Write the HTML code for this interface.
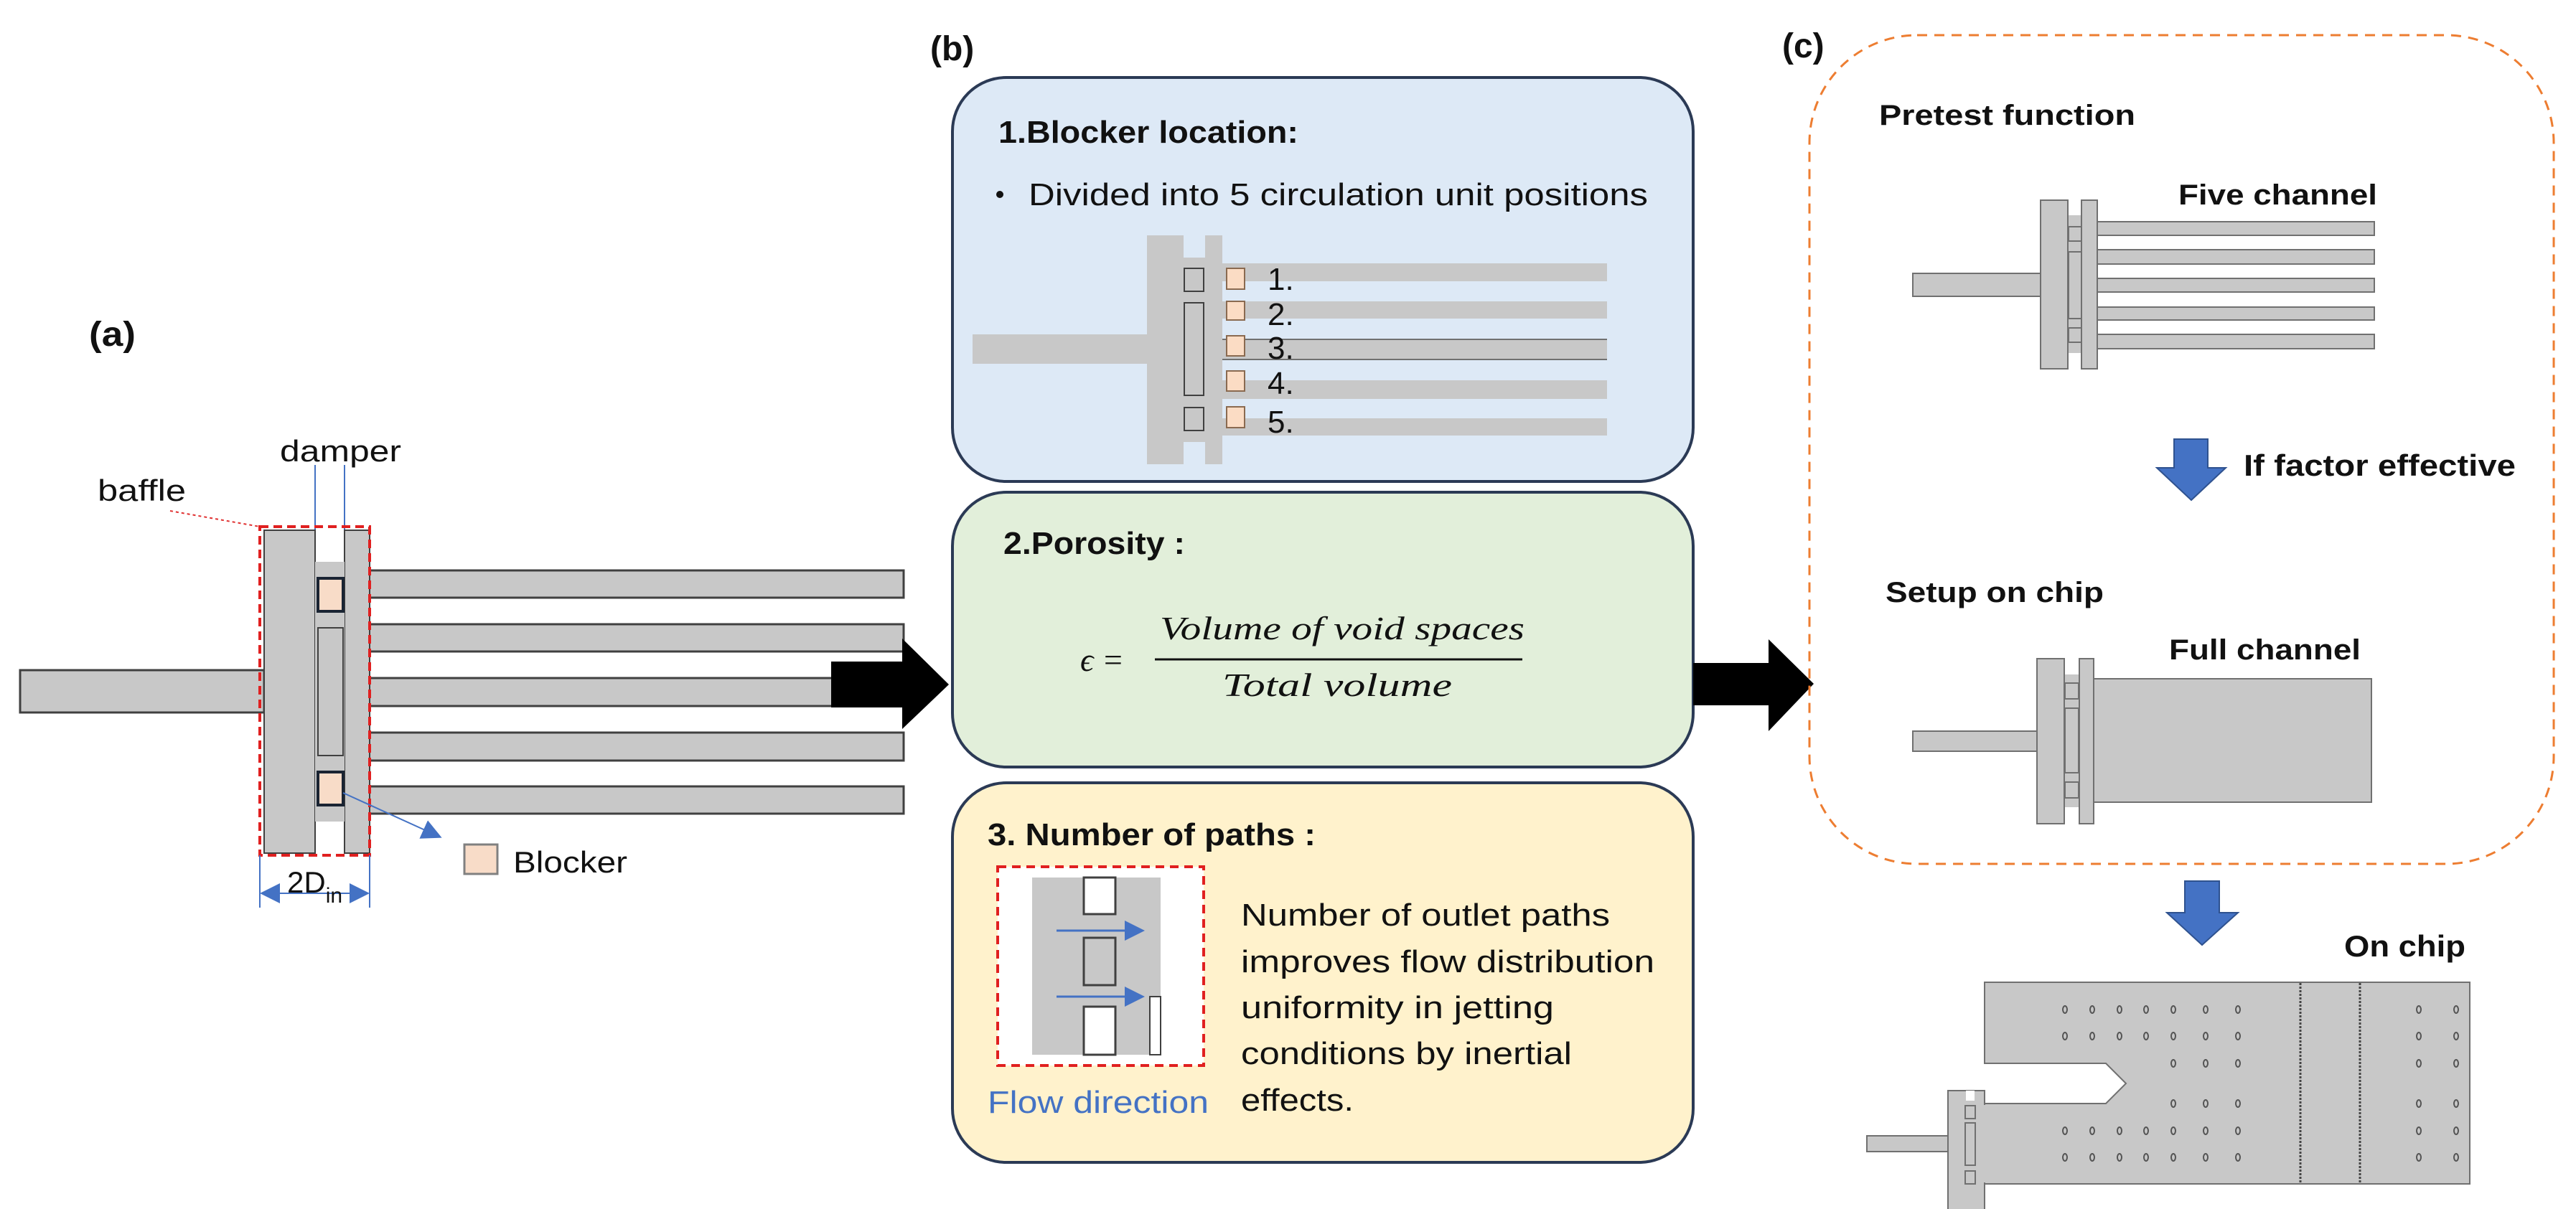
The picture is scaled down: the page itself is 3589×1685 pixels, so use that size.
<!DOCTYPE html>
<html><head><meta charset="utf-8"><style>
html,body{margin:0;padding:0;background:#fff;}
svg{display:block;}
text{font-family:"Liberation Sans",sans-serif;fill:#111;}
.b{font-weight:bold;}
</style></head><body>
<svg width="3589" height="1685" viewBox="0 0 3589 1685" xmlns="http://www.w3.org/2000/svg">
<defs>
<marker id="bl" markerWidth="28" markerHeight="28" refX="24" refY="14" orient="auto" markerUnits="userSpaceOnUse"><path d="M0,0 L28,14 L0,28z" fill="#4472c4"/></marker>
<marker id="bl2" markerWidth="28" markerHeight="28" refX="4" refY="14" orient="auto" markerUnits="userSpaceOnUse"><path d="M28,0 L0,14 L28,28z" fill="#4472c4"/></marker>
</defs>

<!-- (a) -->
<text x="124" y="482" class="b" font-size="48" textLength="65" lengthAdjust="spacingAndGlyphs">(a)</text>
<text x="390" y="643" font-size="42" textLength="169" lengthAdjust="spacingAndGlyphs">damper</text>
<text x="136" y="698" font-size="42" textLength="123" lengthAdjust="spacingAndGlyphs">baffle</text>
<line x1="237" y1="712" x2="362" y2="734" stroke="#e03030" stroke-width="2" stroke-dasharray="4,4"/>
<line x1="439" y1="648" x2="439" y2="790" stroke="#4472c4" stroke-width="2"/>
<line x1="480" y1="648" x2="480" y2="790" stroke="#4472c4" stroke-width="2"/>
<rect x="28" y="934" width="340" height="59" fill="#c8c8c8" stroke="#404040" stroke-width="3"/>
<g fill="#c8c8c8" stroke="#404040" stroke-width="3">
<rect x="512" y="795" width="747" height="38"/>
<rect x="512" y="870" width="747" height="38"/>
<rect x="512" y="945" width="747" height="39"/>
<rect x="512" y="1021" width="747" height="39"/>
<rect x="512" y="1096" width="747" height="38"/>
</g>
<rect x="368" y="739" width="71" height="450" fill="#c8c8c8" stroke="#404040" stroke-width="2"/>
<rect x="480" y="739" width="35" height="450" fill="#c8c8c8" stroke="#404040" stroke-width="2"/>
<rect x="439" y="783" width="41" height="362" fill="#c8c8c8"/>
<rect x="443" y="806" width="35" height="46" fill="#f8dcc8" stroke="#1a2433" stroke-width="4"/>
<rect x="443" y="875" width="35" height="178" fill="#c8c8c8" stroke="#404040" stroke-width="2"/>
<rect x="443" y="1076" width="35" height="46" fill="#f8dcc8" stroke="#1a2433" stroke-width="4"/>
<rect x="362" y="734" width="153" height="458" fill="none" stroke="#e02020" stroke-width="4" stroke-dasharray="12,7"/>
<line x1="478" y1="1105" x2="612" y2="1166" stroke="#4472c4" stroke-width="2" marker-end="url(#bl)"/>
<rect x="647" y="1177" width="46" height="41" fill="#f8dcc8" stroke="#808080" stroke-width="3"/>
<text x="715" y="1216" font-size="42" textLength="159" lengthAdjust="spacingAndGlyphs">Blocker</text>
<line x1="362" y1="1192" x2="362" y2="1265" stroke="#4472c4" stroke-width="2"/>
<line x1="515" y1="1192" x2="515" y2="1265" stroke="#4472c4" stroke-width="2"/>
<line x1="366" y1="1245" x2="511" y2="1245" stroke="#4472c4" stroke-width="2" marker-end="url(#bl)" marker-start="url(#bl2)"/>
<text x="400" y="1244" font-size="42">2D<tspan font-size="30" dy="14">in</tspan></text>
<path d="M1158,922 L1257,922 L1257,890 L1322,954 L1257,1016 L1257,986 L1158,986z" fill="#000"/>

<!-- (b) -->
<text x="1296" y="84" class="b" font-size="48">(b)</text>
<rect x="1327" y="108" width="1032" height="563" rx="75" fill="#dde9f6" stroke="#2b3a55" stroke-width="4"/>
<text x="1391" y="199" class="b" font-size="44" textLength="418" lengthAdjust="spacingAndGlyphs">1.Blocker location:</text>
<circle cx="1393" cy="271" r="5" fill="#111"/>
<text x="1433" y="286" font-size="44" textLength="863" lengthAdjust="spacingAndGlyphs">Divided into 5 circulation unit positions</text>
<g fill="#c8c8c8">
<rect x="1355" y="466" width="247" height="41"/>
<rect x="1598" y="328" width="51" height="319"/>
<rect x="1679" y="328" width="24" height="319"/>
<rect x="1649" y="359" width="30" height="257"/>
<rect x="1703" y="367" width="536" height="25"/>
<rect x="1703" y="420" width="536" height="24"/>
<rect x="1703" y="472" width="536" height="29"/>
<rect x="1703" y="530" width="536" height="26"/>
<rect x="1703" y="583" width="536" height="24"/>
</g>
<line x1="1703" y1="473" x2="2239" y2="473" stroke="#707070" stroke-width="2"/>
<line x1="1703" y1="501" x2="2239" y2="501" stroke="#707070" stroke-width="2"/>
<g fill="none" stroke="#404040" stroke-width="2">
<rect x="1650" y="374" width="27" height="32"/>
<rect x="1650" y="422" width="27" height="129"/>
<rect x="1650" y="568" width="27" height="32"/>
</g>
<g fill="#fbdcc4" stroke="#8a6a50" stroke-width="2">
<rect x="1709" y="374" width="25" height="29"/>
<rect x="1709" y="420" width="25" height="26"/>
<rect x="1709" y="468" width="25" height="28"/>
<rect x="1709" y="517" width="25" height="28"/>
<rect x="1709" y="567" width="25" height="29"/>
</g>
<g font-size="44">
<text x="1766" y="404">1.</text>
<text x="1766" y="453">2.</text>
<text x="1766" y="500">3.</text>
<text x="1766" y="549">4.</text>
<text x="1766" y="603">5.</text>
</g>

<rect x="1327" y="686" width="1032" height="383" rx="75" fill="#e2efda" stroke="#2b3a55" stroke-width="4"/>
<text x="1398" y="772" class="b" font-size="44" textLength="253" lengthAdjust="spacingAndGlyphs">2.Porosity :</text>
<text x="1505" y="935" font-size="46" font-style="italic" style="font-family:'Liberation Serif',serif">ϵ =</text>
<line x1="1609" y1="919" x2="2121" y2="919" stroke="#111" stroke-width="3"/>
<text x="1616" y="891" font-size="46" font-style="italic" style="font-family:'Liberation Serif',serif" textLength="508" lengthAdjust="spacingAndGlyphs">Volume of void spaces</text>
<text x="1703" y="970" font-size="46" font-style="italic" style="font-family:'Liberation Serif',serif" textLength="320" lengthAdjust="spacingAndGlyphs">Total volume</text>

<rect x="1327" y="1091" width="1032" height="529" rx="75" fill="#fff2cc" stroke="#2b3a55" stroke-width="4"/>
<text x="1376" y="1178" class="b" font-size="44" textLength="457" lengthAdjust="spacingAndGlyphs">3. Number of paths :</text>
<rect x="1390" y="1208" width="287" height="277" fill="#fff" stroke="#e02020" stroke-width="4" stroke-dasharray="12,8"/>
<rect x="1438" y="1223" width="179" height="247" fill="#c8c8c8"/>
<path d="M1510,1223 L1510,1274 L1554,1274 L1554,1223z" fill="#fff" stroke="#404040" stroke-width="3"/>
<rect x="1510" y="1307" width="44" height="66" fill="#c8c8c8" stroke="#404040" stroke-width="3"/>
<path d="M1510,1470 L1510,1403 L1554,1403 L1554,1470z" fill="#fff" stroke="#404040" stroke-width="3"/>
<path d="M1602,1470 L1602,1389 L1617,1389 L1617,1470z" fill="#fff" stroke="#404040" stroke-width="2"/>
<line x1="1472" y1="1297" x2="1591" y2="1297" stroke="#4472c4" stroke-width="3" marker-end="url(#bl)"/>
<line x1="1472" y1="1389" x2="1591" y2="1389" stroke="#4472c4" stroke-width="3" marker-end="url(#bl)"/>
<text x="1376" y="1551" font-size="44" style="fill:#4472c4" textLength="308" lengthAdjust="spacingAndGlyphs">Flow direction</text>
<g font-size="44">
<text x="1729" y="1290" textLength="514" lengthAdjust="spacingAndGlyphs">Number of outlet paths</text>
<text x="1729" y="1355" textLength="576" lengthAdjust="spacingAndGlyphs">improves flow distribution</text>
<text x="1729" y="1419" textLength="436" lengthAdjust="spacingAndGlyphs">uniformity in jetting</text>
<text x="1729" y="1483" textLength="461" lengthAdjust="spacingAndGlyphs">conditions by inertial</text>
<text x="1729" y="1548" textLength="157" lengthAdjust="spacingAndGlyphs">effects.</text>
</g>
<path d="M2359,924 L2464,924 L2464,891 L2527,953 L2464,1019 L2464,983 L2359,983z" fill="#000"/>

<!-- (c) -->
<text x="2483" y="80" class="b" font-size="48">(c)</text>
<rect x="2521" y="49" width="1037" height="1155" rx="150" fill="none" stroke="#ed7d31" stroke-width="3" stroke-dasharray="14,10"/>
<text x="2618" y="174" class="b" font-size="40" textLength="357" lengthAdjust="spacingAndGlyphs">Pretest function</text>
<text x="3035" y="285" class="b" font-size="40" textLength="277" lengthAdjust="spacingAndGlyphs">Five channel</text>
<g fill="#c8c8c8" stroke="#707070" stroke-width="2">
<rect x="2665" y="381" width="180" height="32"/>
<rect x="2920" y="309" width="388" height="19"/>
<rect x="2920" y="348" width="388" height="20"/>
<rect x="2920" y="388" width="388" height="19"/>
<rect x="2920" y="428" width="388" height="18"/>
<rect x="2920" y="466" width="388" height="20"/>
<rect x="2843" y="279" width="38" height="235"/>
<rect x="2900" y="279" width="22" height="235"/>
</g>
<rect x="2882" y="300" width="17" height="192" fill="#c8c8c8"/>
<g fill="none" stroke="#707070" stroke-width="2">
<rect x="2882" y="316" width="18" height="20"/>
<rect x="2882" y="351" width="18" height="93"/>
<rect x="2882" y="457" width="18" height="20"/>
</g>
<path d="M3029,612 L3076,612 L3076,652 L3101,652 L3053,697 L3005,652 L3029,652z" fill="#4472c4" stroke="#2f528f" stroke-width="2"/>
<text x="3126" y="663" class="b" font-size="42" textLength="379" lengthAdjust="spacingAndGlyphs">If factor effective</text>
<text x="2627" y="839" class="b" font-size="40" textLength="304" lengthAdjust="spacingAndGlyphs">Setup on chip</text>
<text x="3022" y="919" class="b" font-size="40" textLength="267" lengthAdjust="spacingAndGlyphs">Full channel</text>
<g fill="#c8c8c8" stroke="#707070" stroke-width="2">
<rect x="2665" y="1019" width="175" height="28"/>
<rect x="2913" y="946" width="391" height="172"/>
<rect x="2838" y="918" width="38" height="230"/>
<rect x="2897" y="918" width="20" height="230"/>
</g>
<rect x="2877" y="940" width="19" height="185" fill="#c8c8c8"/>
<g fill="none" stroke="#707070" stroke-width="2">
<rect x="2877" y="952" width="19" height="22"/>
<rect x="2877" y="987" width="19" height="90"/>
<rect x="2877" y="1090" width="19" height="22"/>
</g>
<!-- to on chip -->
<path d="M3044,1228 L3092,1228 L3092,1272 L3118,1272 L3068,1317 L3019,1272 L3044,1272z" fill="#4472c4" stroke="#2f528f" stroke-width="2"/>
<text x="3266" y="1333" class="b" font-size="42" textLength="169" lengthAdjust="spacingAndGlyphs">On chip</text>
<path d="M2765,1369 L3441,1369 L3441,1650 L2765,1650 L2765,1538 L2934,1538 L2962,1510 L2934,1482 L2765,1482z" fill="#c8c8c8" stroke="#707070" stroke-width="2"/>
<rect x="2601" y="1583" width="115" height="22" fill="#c8c8c8" stroke="#707070" stroke-width="2"/>
<rect x="2714" y="1520" width="51" height="170" fill="#c8c8c8" stroke="#707070" stroke-width="2"/>
<rect x="2764" y="1540" width="4" height="108" fill="#c8c8c8"/>
<rect x="2739" y="1520" width="12" height="14" fill="#fff"/>
<g fill="none" stroke="#707070" stroke-width="2">
<rect x="2738" y="1541" width="14" height="18"/>
<rect x="2738" y="1565" width="14" height="59"/>
<rect x="2738" y="1632" width="14" height="18"/>
</g>
<line x1="3205" y1="1370" x2="3205" y2="1649" stroke="#444" stroke-width="3" stroke-dasharray="3,2"/>
<line x1="3288" y1="1370" x2="3288" y2="1649" stroke="#444" stroke-width="3" stroke-dasharray="3,2"/>
<g fill="none" stroke="#555" stroke-width="2">
<g id="r1">
<ellipse cx="2877" cy="1407" rx="3" ry="5"/><ellipse cx="2915" cy="1407" rx="3" ry="5"/><ellipse cx="2953" cy="1407" rx="3" ry="5"/><ellipse cx="2990" cy="1407" rx="3" ry="5"/><ellipse cx="3028" cy="1407" rx="3" ry="5"/><ellipse cx="3073" cy="1407" rx="3" ry="5"/><ellipse cx="3118" cy="1407" rx="3" ry="5"/><ellipse cx="3370" cy="1407" rx="3" ry="5"/><ellipse cx="3422" cy="1407" rx="3" ry="5"/>
</g>
<use href="#r1" y="37"/>
<use href="#r1" y="169"/>
<use href="#r1" y="206"/>
<ellipse cx="3028" cy="1482" rx="3" ry="5"/><ellipse cx="3073" cy="1482" rx="3" ry="5"/><ellipse cx="3118" cy="1482" rx="3" ry="5"/><ellipse cx="3370" cy="1482" rx="3" ry="5"/><ellipse cx="3422" cy="1482" rx="3" ry="5"/>
<ellipse cx="3028" cy="1538" rx="3" ry="5"/><ellipse cx="3073" cy="1538" rx="3" ry="5"/><ellipse cx="3118" cy="1538" rx="3" ry="5"/><ellipse cx="3370" cy="1538" rx="3" ry="5"/><ellipse cx="3422" cy="1538" rx="3" ry="5"/>
</g>
</svg>
</body></html>
